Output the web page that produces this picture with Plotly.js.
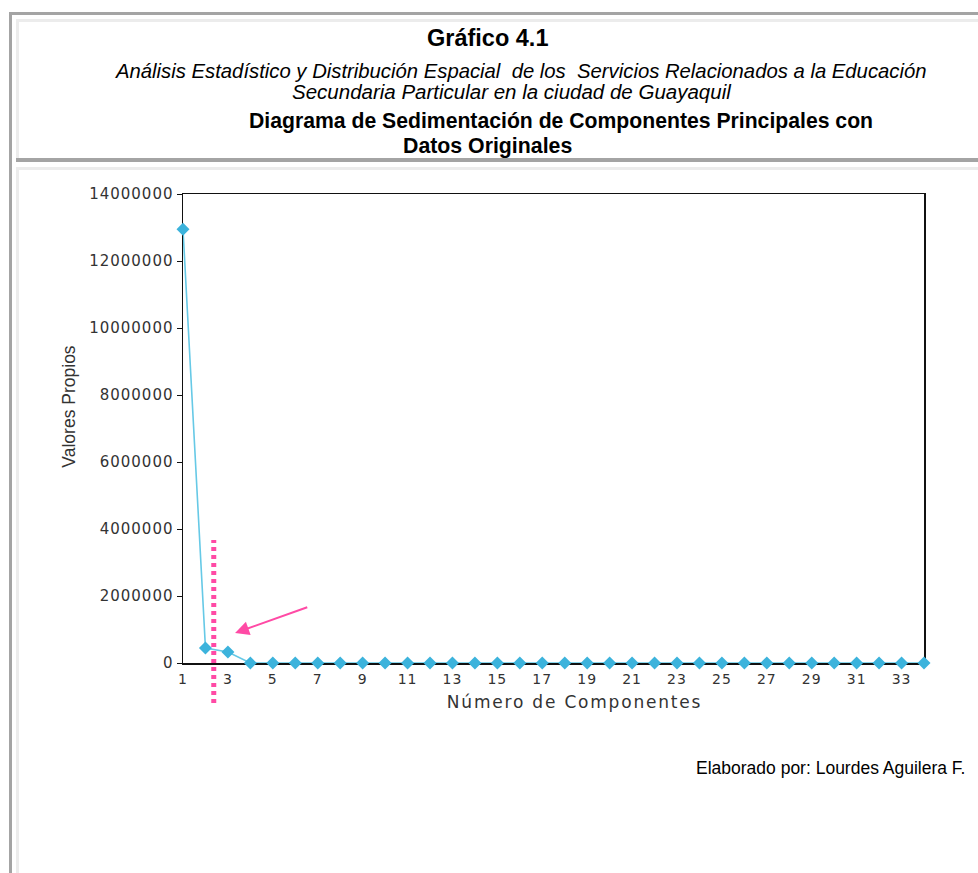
<!DOCTYPE html>
<html>
<head>
<meta charset="utf-8">
<script src="https://cdn.plot.ly/plotly-3.0.1.min.js"></script>
<style>
  html, body { margin: 0; padding: 0; background: #ffffff; }
  #wrap { position: relative; width: 978px; height: 873px; overflow: hidden; }
  .b { position: absolute; }
  #chart { position: absolute; left: 0; top: 0; width: 978px; height: 873px; }
  .xtick text, .ytick text { letter-spacing: 1px; }
  .xtitle { letter-spacing: 1.8px; translate: 21px 0px; }
  .ytitle { translate: 0px -22px; }
</style>
</head>
<body>
<div id="wrap">
  <div class="b" style="left:9px;top:12px;width:969px;height:3px;background:#a4a4a4"></div>
  <div class="b" style="left:9px;top:12px;width:3px;height:861px;background:#a4a4a4"></div>
  <div class="b" style="left:16px;top:19px;width:962px;height:3px;background:#ececec"></div>
  <div class="b" style="left:16px;top:19px;width:3px;height:139px;background:#ececec"></div>
  <div class="b" style="left:16px;top:158px;width:962px;height:4px;background:#a4a4a4"></div>
  <div class="b" style="left:16px;top:167px;width:962px;height:3px;background:#ececec"></div>
  <div class="b" style="left:16px;top:167px;width:3px;height:706px;background:#ececec"></div>
  <div id="chart"></div>
</div>
<script>
// ---- data ----
var components = [1,2,3,4,5,6,7,8,9,10,11,12,13,14,15,16,17,18,19,20,21,22,23,24,25,26,27,28,29,30,31,32,33,34];
var eigenvalues = [12950000, 448000, 328000, 0, 0, 0, 0, 0, 0, 0, 0, 0, 0, 0, 0, 0, 0, 0, 0, 0, 0, 0, 0, 0, 0, 0, 0, 0, 0, 0, 0, 0, 0, 0];
var xTickVals = [1,3,5,7,9,11,13,15,17,19,21,23,25,27,29,31,33];
var yTickVals = [0, 2000000, 4000000, 6000000, 8000000, 10000000, 12000000, 14000000];

var titleMain = "Gráfico 4.1";
var subtitle1 = "Análisis Estadístico y Distribución Espacial  de los  Servicios Relacionados a la Educación";
var subtitle2 = "Secundaria Particular en la ciudad de Guayaquil";
var heading1 = "Diagrama de Sedimentación de Componentes Principales con";
var heading2 = "Datos Originales";
var credit = "Elaborado por: Lourdes Aguilera F.";
var xTitle = "Número de Componentes";
var yTitle = "Valores Propios";

var trace = {
  x: components,
  y: eigenvalues,
  type: 'scatter',
  mode: 'lines+markers',
  line: { color: '#66c9e6', width: 1.6 },
  marker: { symbol: 'diamond', size: 10, color: '#3cb3dc' },
  cliponaxis: false,
  hoverinfo: 'x+y'
};

var arial = 'Liberation Sans, Arial, sans-serif';
var layout = {
  width: 978,
  height: 873,
  margin: { l: 183, r: 54, t: 194, b: 210 },
  paper_bgcolor: 'rgba(0,0,0,0)',
  plot_bgcolor: '#ffffff',
  showlegend: false,
  xaxis: {
    range: [1, 34],
    tickvals: xTickVals,
    ticks: '',
    ticklabelstandoff: 3,
    showline: true, mirror: true, linecolor: '#111111', linewidth: 1.5,
    showgrid: false, zeroline: false,
    layer: 'below traces',
    tickfont: { family: 'DejaVu Sans, sans-serif', size: 14, color: '#333333' },
    title: { text: xTitle, standoff: 10, font: { family: 'DejaVu Sans, sans-serif', size: 17, color: '#333333' } }
  },
  yaxis: {
    range: [0, 14000000],
    tickvals: yTickVals,
    tickformat: 'd',
    ticks: 'outside', ticklen: 5, tickcolor: '#111111', tickwidth: 1,
    showline: true, mirror: true, linecolor: '#111111', linewidth: 1.5,
    showgrid: false, zeroline: false,
    layer: 'below traces',
    tickfont: { family: 'DejaVu Sans, sans-serif', size: 15, color: '#333333' },
    title: { text: yTitle, standoff: 9, font: { family: 'Liberation Sans, Arial, sans-serif', size: 17.5, color: '#333333' } }
  },
  shapes: [
    { type: 'line', xref: 'x', yref: 'paper', x0: 2.37, x1: 2.37, y0: -0.0853, y1: 0.2623,
      line: { color: '#ff4aa5', width: 5, dash: '4px,4px' } }
  ],
  annotations: [
    { text: '', xref: 'x', yref: 'y', axref: 'x', ayref: 'y', x: 3.32, y: 895000, ax: 6.6, ay: 1680000,
      showarrow: true, arrowhead: 2, arrowsize: 1.4, arrowwidth: 2, arrowcolor: '#ff4aa5' },
    { text: '<b>' + titleMain + '</b>', xref: 'paper', yref: 'paper', x: 0.4116, y: 1.3326, xanchor: 'center', yanchor: 'middle', showarrow: false,
      font: { family: arial, size: 23.5, color: '#000000' } },
    { text: '<i>' + subtitle1 + '</i>', xref: 'paper', yref: 'paper', x: 0.4561, y: 1.2623, xanchor: 'center', yanchor: 'middle', showarrow: false,
      font: { family: arial, size: 20.3, color: '#000000' } },
    { text: '<i>' + subtitle2 + '</i>', xref: 'paper', yref: 'paper', x: 0.444, y: 1.2175, xanchor: 'center', yanchor: 'middle', showarrow: false,
      font: { family: arial, size: 20.5, color: '#000000' } },
    { text: '<b>' + heading1 + '</b>', xref: 'paper', yref: 'paper', x: 0.5101, y: 1.1557, xanchor: 'center', yanchor: 'middle', showarrow: false,
      font: { family: arial, size: 21.2, color: '#000000' } },
    { text: '<b>' + heading2 + '</b>', xref: 'paper', yref: 'paper', x: 0.4116, y: 1.1023, xanchor: 'center', yanchor: 'middle', showarrow: false,
      font: { family: arial, size: 21.3, color: '#000000' } },
    { text: credit, xref: 'paper', yref: 'paper', x: 1.058, y: -0.2239, xanchor: 'right', yanchor: 'middle', showarrow: false,
      font: { family: arial, size: 17.5, color: '#000000' } }
  ]
};

Plotly.newPlot('chart', [trace], layout, { displayModeBar: false, staticPlot: true });
</script>
</body>
</html>
